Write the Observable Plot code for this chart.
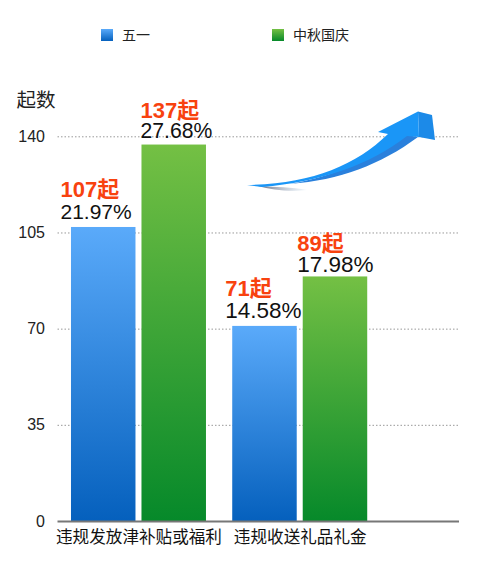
<!DOCTYPE html>
<html><head><meta charset="utf-8">
<script src="https://cdn.jsdelivr.net/npm/d3@7"></script>
<script src="https://cdn.jsdelivr.net/npm/@observablehq/plot@0.6"></script>
<style>
html,body{margin:0;padding:0;background:#fff}
body{width:485px;height:572px;overflow:hidden;font-family:"Liberation Sans","Noto Sans CJK SC",sans-serif}
#legend{position:relative;height:80px}
#legend span{position:absolute;top:25px;font:14px/18px "Noto Sans CJK SC",sans-serif;color:#222}
#legend i{position:absolute;top:29px;width:12px;height:12px}
svg{display:block}
</style></head><body>
<div id="legend"></div>
<div id="chart"></div>
<script>
const categories = ["违规发放津补贴或福利", "违规收送礼品礼金"];
const seriesNames = ["五一", "中秋国庆"];
const mayDay = [107, 71];
const autumn = [137, 89];
const mayDayShare = ["21.97%", "14.58%"];
const autumnShare = ["27.68%", "17.98%"];
const yTicks = [0, 35, 70, 105, 140];

// Horizontal layout in bar widths: bars 1 wide, slot step 1.093, group step 2.5.
const slot = (g, s) => g * 2.5 + s * 1.093;
const rows = categories.flatMap((c, g) => [
  {category: c, series: seriesNames[0], g, s: 0, value: mayDay[g], share: mayDayShare[g]},
  {category: c, series: seriesNames[1], g, s: 1, value: autumn[g], share: autumnShare[g]}
]);
// Label placement in the picture, one per bar in row order.
const labelDx = [-11, -1.5, -7.5, -6];
const shareDy = [-15, -14, -16, -12];
const countDy = [-38, -34, -37, -33];
const shareSize = [21, 21.2, 22.5, 22.5];
const gradients = [["blue", "#5aaafa", "#0560bd"], ["green", "#74c044", "#06892a"]];

const defs = () => {
  const s = d3.create("svg:defs");
  for (const [id, a, b] of gradients) {
    const g = s.append("linearGradient").attr("id", id).attr("x1", 0).attr("x2", 0).attr("y1", 0).attr("y2", 1);
    g.append("stop").attr("offset", "0%").attr("stop-color", a);
    g.append("stop").attr("offset", "100%").attr("stop-color", b);
  }
  return s.node();
};

const legend = d3.select("#legend");
seriesNames.forEach((n, i) => {
  const left = [101, 272][i];
  legend.append("i").style("left", left + "px").style("background", `linear-gradient(${gradients[i][1]},${gradients[i][2]})`);
  legend.append("span").style("left", left + 21 + "px").text(n);
});

const fontFamily = '"Liberation Sans","Noto Sans CJK SC",sans-serif';
const cjk = '"Noto Sans CJK SC",sans-serif';
const left = d => slot(d.g, d.s);
const chart = Plot.plot({
  width: 485, height: 492,
  marginLeft: 57.5, marginRight: 26, marginTop: 56.3, marginBottom: 51,
  style: {fontFamily, background: "#fff", color: "#222"},
  x: {domain: [-0.209, 6.016], label: null},
  y: {domain: [0, 140], label: null},
  color: {domain: seriesNames, range: ["url(#blue)", "url(#green)"]},
  marks: [
    defs,
    Plot.ruleY(yTicks.slice(1), {stroke: "#999", strokeWidth: 1, strokeDasharray: "1.5 2"}),
    Plot.rectY(rows, {x1: left, x2: d => left(d) + 1, y: "value", fill: "series", inset: 0}),
    Plot.ruleY([0], {stroke: "#777", strokeWidth: 2}),
    Plot.axisY({ticks: yTicks, tickSize: 0, tickPadding: 13, fontSize: 16, label: null}),
    Plot.axisX({ticks: categories.map((c, g) => slot(g, 0.5) + 0.5), tickFormat: (d, i) => categories[i], tickSize: 0, tickPadding: 10, fontSize: 16.6, label: null, fontFamily: cjk, fill: "#111"}),
    Plot.text(["起数"], {frameAnchor: "top-left", dx: -41.5, dy: -44, fontSize: 19.5, fontFamily: cjk, fill: "#222"}),
    ...labelDx.flatMap((dx, i) => [
      Plot.text(rows, {filter: (d, j) => j === i, x: left, y: "value", text: "share", dx, dy: shareDy[i], textAnchor: "start", fontSize: shareSize[i], fill: "#111"}),
      Plot.text(rows, {filter: (d, j) => j === i, x: left, y: "value", text: d => d.value + "起", dx, dy: countDy[i], textAnchor: "start", fontSize: 22, fontWeight: "bold", fill: "#f8420f"})
    ])
  ]
});
document.getElementById("chart").append(chart);

// Decorative arrow from the picture; it carries no data.
const deco = d3.select(chart).append("g").attr("transform", "translate(0,-80)");
const dg = deco.append("linearGradient").attr("id", "shadow");
dg.append("stop").attr("offset", "0%").attr("stop-color", "#667");
dg.append("stop").attr("offset", "100%").attr("stop-color", "#cfe4f5").attr("stop-opacity", 0.3);
deco.append("path").attr("fill", "url(#shadow)").attr("d", "M258,186 C275,187 292,187 307,190 C290,192 272,190 258,186Z");
deco.append("path").attr("fill", "#2a80dc").attr("d", "M290,184 C335,176 375,158 407,135 L418,137 C380,165 340,180 290,184Z");
deco.append("path").attr("fill", "#1c8ae8").attr("d", "M418,111.5 L432,115 L435,140 L419,137Z");
deco.append("path").attr("fill", "#1a96f7").attr("d", "M247,185 C310,184 355,166 388,134 L378,132 L418,111.5 L419,137 L407,136 C370,165 320,182 262,187Z");
</script>
</body></html>
